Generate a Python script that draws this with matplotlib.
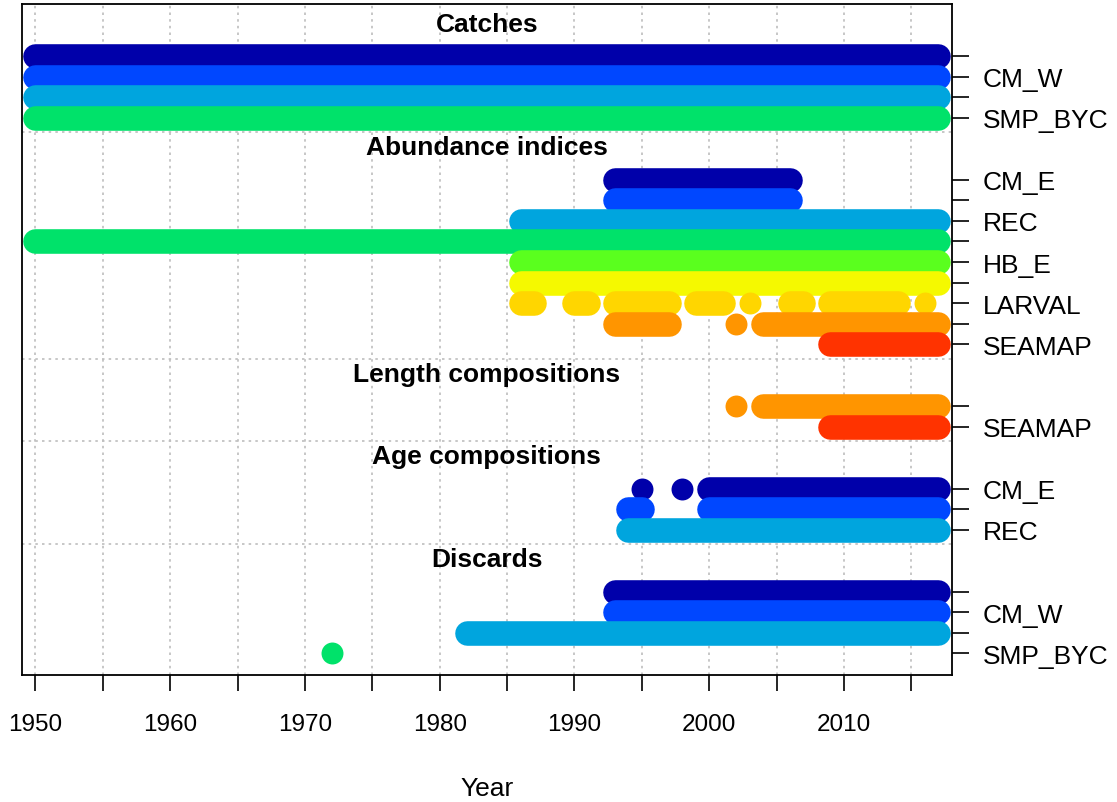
import matplotlib
matplotlib.use('Agg')
import matplotlib.pyplot as plt
from matplotlib.ticker import MultipleLocator

plt.rcParams['font.family'] = ['Liberation Sans', 'DejaVu Sans']

# data: one entry per row, runs of years (start, end) with data
block_titles = ['Catches', 'Abundance indices', 'Length compositions',
                'Age compositions', 'Discards']

catch_labels = ['', 'CM_W', '', 'SMP_BYC']
catch_colors = ['#0000AA', '#0047FF', '#00A5DE', '#00E26A']
catch_runs = [[(1950, 2017)], [(1950, 2017)], [(1950, 2017)], [(1950, 2017)]]

index_labels = ['CM_E', '', 'REC', '', 'HB_E', '', 'LARVAL', '', 'SEAMAP']
index_colors = ['#0000AA', '#0047FF', '#00A5DE', '#00E26A', '#5AFF1E',
                '#F5F900', '#FFD600', '#FF9500', '#FF3300']
index_runs = [
    [(1993, 2006)],
    [(1993, 2006)],
    [(1986, 2017)],
    [(1950, 2017)],
    [(1986, 2017)],
    [(1986, 2017)],
    [(1986, 1987), (1990, 1991), (1993, 1997), (1999, 2001), (2003, 2003),
     (2006, 2007), (2009, 2014), (2016, 2016)],
    [(1993, 1997), (2002, 2002), (2004, 2017)],
    [(2009, 2017)],
]

length_labels = ['', 'SEAMAP']
length_colors = ['#FF9500', '#FF3300']
length_runs = [[(2002, 2002), (2004, 2017)], [(2009, 2017)]]

age_labels = ['CM_E', '', 'REC']
age_colors = ['#0000AA', '#0047FF', '#00A5DE']
age_runs = [[(1995, 1995), (1998, 1998), (2000, 2017)],
            [(1994, 1995), (2000, 2017)],
            [(1994, 2017)]]

discard_labels = ['', 'CM_W', '', 'SMP_BYC']
discard_colors = ['#0000AA', '#0047FF', '#00A5DE', '#00E26A']
discard_runs = [[(1993, 2017)], [(1993, 2017)], [(1982, 2017)], [(1972, 1972)]]

blocks = [
    (catch_labels, catch_colors, catch_runs),
    (index_labels, index_colors, index_runs),
    (length_labels, length_colors, length_runs),
    (age_labels, age_colors, age_runs),
    (discard_labels, discard_colors, discard_runs),
]

fig = plt.figure(figsize=(11.17, 8.03), dpi=100)
ax = fig.add_axes([0.0197, 0.1582, 0.8323, 0.836])
ax.set_xlim(1949, 2018)

# y positions: rows counted from the bottom, two blank rows between blocks
n_rows = sum(len(b[0]) for b in blocks) + 2 * (len(blocks) - 1)
y = n_rows
ytick_pos, ytick_lab = [], []
for i, (labels, colors, runs) in enumerate(blocks):
    ax.text(1983.5, y + 1.58, block_titles[i], ha='center', va='center',
            fontsize=19, fontweight='bold')
    for lab, col, rr in zip(labels, colors, runs):
        for s, e in rr:
            if s == e:
                ax.plot([s], [y], 'o', ms=15.8, color=col, mec='none', zorder=3)
            else:
                ax.plot([s, e], [y, y], lw=17.7, color=col,
                        solid_capstyle='round', zorder=3)
        ytick_pos.append(y)
        ytick_lab.append(lab)
        y -= 1
    if i < len(blocks) - 1:
        ax.axhline(y + 0.3, color='#bebebe', lw=1.2, ls=(0, (1.5, 2.5)), zorder=1)
    y -= 2

ax.set_ylim(-0.05, n_rows + 2.55)

for yr in range(1950, 2016, 5):
    ax.axvline(yr, color='#bebebe', lw=1.2, ls=(0, (1.5, 2.5)), zorder=1)

ax.xaxis.set_major_locator(MultipleLocator(10))
ax.xaxis.set_minor_locator(MultipleLocator(5))
ax.set_xticks(range(1950, 2011, 10))
ax.tick_params(axis='x', which='both', length=11.5, width=1.2, labelsize=17.5, pad=16)
ax.set_xlabel('Year', fontsize=19, labelpad=29.5)

ax.yaxis.tick_right()
ax.set_yticks(ytick_pos)
ax.set_yticklabels(ytick_lab)
ax.tick_params(axis='y', length=12, width=1.2, labelsize=19, pad=10.5)

for sp in ax.spines.values():
    sp.set_linewidth(1.3)

fig.savefig('out.png', dpi=100)
